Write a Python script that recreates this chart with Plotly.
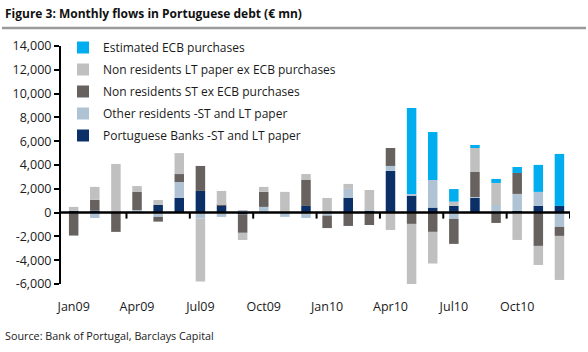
import plotly.graph_objects as go

months = ["Jan09", "Feb09", "Mar09", "Apr09", "May09", "Jun09", "Jul09", "Aug09", "Sep09", "Oct09", "Nov09", "Dec09",
          "Jan10", "Feb10", "Mar10", "Apr10", "May10", "Jun10", "Jul10", "Aug10", "Sep10", "Oct10", "Nov10", "Dec10"]

banks = [150, 170, 0, 0, 640, 1230, 1820, 560, -150, 0, 0, 560,
         0, 1230, 140, 3500, 1460, 420, 560, 1230, 0, 140, 560, 560]
other_res = [0, -450, 0, 220, -360, 1340, -500, -360, 220, 480, -360, -450,
             -250, 760, 80, 420, 110, 2320, -530, 80, 640, 1430, 1180, -1200]
nonres_st = [-1930, 900, -1620, 1510, -400, 670, 2100, 80, -1550, 1260, 0, 2180,
             -1050, -1120, -1040, 1510, -950, -1620, -2100, 2100, -870, 1760, -2800, -760]
nonres_lt = [330, 1090, 4090, 500, 420, 1760, -5290, 1180, -600, 420, 1740, 500,
             1230, 420, 1680, -1460, -5350, -2660, 360, 2020, 1850, -2300, -1600, -3700]
ecb = [0, 0, 0, 0, 0, 0, 0, 0, 0, 0, 0, 0,
       0, 0, 0, 0, 7220, 4030, 1060, 250, 340, 500, 2270, 4370]

y_tick_vals = [-6000, -4000, -2000, 0, 2000, 4000, 6000, 8000, 10000, 12000, 14000]
y_tick_text = ["-6,000", "-4,000", "-2,000", "0", "2,000", "4,000", "6,000", "8,000", "10,000", "12,000", "14,000"]

W, H = 588, 352
ML, MR, MT, MB = 61, 18, 46, 68
PW, PH = W - ML - MR, H - MT - MB


def px2x(px):
    return (px - ML) / PW


def px2y(py):
    return (H - MB - py) / PH


series = [
    ("Portuguese Banks -ST and LT paper", banks, "#0B3068"),
    ("Other residents -ST and LT paper", other_res, "#AFC3D4"),
    ("Non residents ST ex ECB purchases", nonres_st, "#67625F"),
    ("Non residents LT paper ex ECB purchases", nonres_lt, "#C0C0C0"),
    ("Estimated ECB purchases", ecb, "#00AEEF"),
]

xs = list(range(len(months)))
fig = go.Figure()
for i, (name, vals, color) in enumerate(series):
    fig.add_bar(x=xs, y=vals, name=name, marker_color=color, marker_line_width=0,
                width=0.45, legendgroup=name, legendrank=len(series) - i, customdata=months,
                hovertemplate="%{customdata}: %{y:,}<extra>" + name + "</extra>")

font = "Open Sans, Noto Sans, sans-serif"

shapes = []
# zero line
shapes.append(dict(type="line", xref="paper", yref="y", x0=0, x1=1, y0=0, y1=0,
                   line=dict(color="black", width=2.5), layer="above"))
# quarter boundary tick marks
for b in [i - 0.5 for i in range(3, len(months) + 1, 3)]:
    shapes.append(dict(type="line", xref="x", yref="y", ysizemode="pixel", yanchor=0,
                       x0=b, x1=b, y0=0, y1=-6, line=dict(color="black", width=2), layer="above"))
# title separator
shapes.append(dict(type="line", xref="paper", yref="paper", x0=px2x(2), x1=px2x(586),
                   y0=px2y(28), y1=px2y(28), line=dict(color="#9A9A9A", width=2.5)))

fig.update_layout(
    width=W, height=H, margin=dict(l=ML, r=MR, t=MT, b=MB),
    barmode="relative", plot_bgcolor="white", paper_bgcolor="white",
    font=dict(family=font, color="#1a1a1a", size=12),
    showlegend=True,
    legend=dict(x=px2x(63), y=px2y(33), xanchor="left", yanchor="top",
                traceorder="grouped", tracegroupgap=3,
                font=dict(size=12, color="#1a1a1a"), bgcolor="rgba(0,0,0,0)",
                itemclick=False),
    xaxis=dict(range=[-0.6, 23.5], tickvals=xs[::3], ticktext=months[::3],
               showline=False, showgrid=False, zeroline=False, ticks="",
               ticklabelstandoff=13, tickfont=dict(size=12.5, color="#1a1a1a")),
    yaxis=dict(range=[-6000, 14000], tickvals=y_tick_vals, ticktext=y_tick_text,
               showline=True, linecolor="black", linewidth=2, ticks="outside",
               ticklen=5, tickwidth=2, tickcolor="black", showgrid=False, zeroline=False,
               tickfont=dict(size=12.5, color="#1a1a1a")),
    shapes=shapes,
    annotations=[
        dict(text="<b>Figure 3: Monthly flows in Portuguese debt (€ mn)</b>", xref="paper", yref="paper",
             x=px2x(3), y=px2y(13), xanchor="left", yanchor="middle", showarrow=False,
             font=dict(size=12, color="#111111")),
        dict(text="Source: Bank of Portugal, Barclays Capital", xref="paper", yref="paper",
             x=px2x(3), y=px2y(335), xanchor="left", yanchor="middle", showarrow=False,
             font=dict(size=10.8, color="#1a1a1a")),
    ],
)

fig.write_html("out.html")
